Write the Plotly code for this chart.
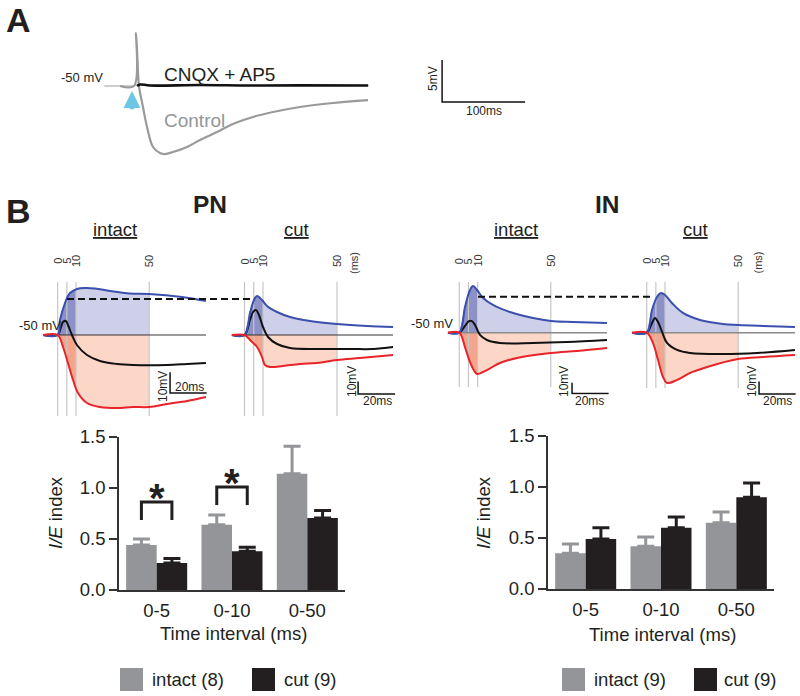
import numpy as np
import plotly.graph_objects as go

W, H = 800, 696
FONT = "Liberation Sans, Arial, Helvetica, sans-serif"
TXT = "#231f20"

# ---------------- Panel A data (time ms, deviation from -50 mV in mV) ----------------
a_control_t = [-18, -1.2, 1.2, 3.0, 4.8, 9.6, 14.5, 21.7, 30.1, 36.1, 45.8, 62.7, 78.3, 98.8,
               118.1, 142.2, 166.3, 198.8, 238.6, 280.7]
a_control_v = [0, 0, 6.31, 3.1, 0, -2.5, -4.88, -7.26, -7.98, -8.10, -7.86, -7.26, -6.43, -5.48,
               -4.52, -3.69, -3.10, -2.50, -2.02, -1.67]
a_cnqx_t = [2.4, 6.0, 18.0, 78.0, 138.0, 199.0, 281.0]
a_cnqx_v = [0.0, 0.18, 0.06, 0.12, 0.06, 0.08, 0.06]

# ---------------- Panel B traces (time ms, deviation from -50 mV) ----------------
pn_intact = {
    "blue_t": [-8, 0, 1.26, 3.99, 6.72, 10.55, 14.9, 20.4, 28.6, 39.5, 49.9, 67.9, 81.0],
    "blue_v": [0, 0, 7.25, 15.46, 20.29, 22.22, 22.7, 22.46, 21.26, 20.05, 19.81, 18.36, 16.43],
    "black_t": [-8, 0, 1.8, 2.9, 4.5, 5.6, 7.8, 10.5, 16.0, 23.1, 32.4, 41.1, 59.7, 70.7, 81.0],
    "black_v": [0, 0, 3.86, 6.28, 6.76, 4.83, 0, -4.83, -9.66, -12.56, -14.0, -14.49, -14.49, -14.0, -13.53],
    "red_t": [-8, 0, 2.9, 5.6, 8.4, 11.1, 16.0, 23.1, 32.4, 41.1, 49.9, 59.7, 70.7, 81.0],
    "red_v": [0, 0, -5.8, -13.53, -21.74, -28.0, -32.85, -34.78, -35.27, -34.78, -34.78, -33.33, -31.88, -29.95],
}
pn_cut = {
    "blue_t": [-6.8, 0, 2.97, 5.14, 6.76, 9.46, 12.16, 17.57, 24.6, 35.4, 50.0, 66.2, 80.3],
    "blue_v": [0, 0, 17.6, 28.0, 31.2, 28.0, 23.2, 18.4, 14.4, 11.2, 8.8, 7.2, 6.4],
    "black_t": [-6.8, 0, 2.97, 4.6, 6.2, 7.8, 10.0, 12.7, 17.6, 24.6, 39.2, 57.0, 69.5, 80.3],
    "black_v": [0, 0, 12.0, 18.4, 20.0, 16.0, 6.4, -1.6, -7.2, -10.4, -11.2, -11.2, -11.2, -9.6],
    "red_t": [-6.8, 0, 2.97, 6.76, 9.46, 11.1, 13.8, 20.8, 30.0, 39.2, 50.0, 62.4, 80.3],
    "red_v": [0, 0, -4.0, -9.6, -17.6, -24.0, -25.6, -24.8, -23.2, -22.4, -20.0, -18.4, -16.0],
}
in_intact = {
    "blue_t": [-6.2, 0, 3.1, 5.85, 7.5, 9.7, 13.0, 18.4, 27.7, 40.3, 50.1, 62.1, 80.7],
    "blue_v": [0, 0, 24.0, 39.9, 43.6, 39.9, 32.4, 25.9, 19.3, 13.7, 10.9, 10.0, 9.1],
    "black_t": [-6.2, 0, 3.1, 5.3, 6.9, 8.6, 11.3, 15.1, 22.2, 40.3, 58.9, 80.7],
    "black_v": [0, 0, 6.3, 10.9, 10.9, 7.2, -2.1, -6.8, -9.6, -9.6, -8.7, -6.8],
    "red_t": [-6.2, 0, 3.1, 5.85, 8.6, 9.7, 15.1, 22.2, 31.5, 50.1, 64.3, 80.7],
    "red_v": [0, 0, -13.4, -27.4, -36.7, -38.6, -34.9, -28.3, -23.6, -19.0, -17.1, -14.3],
}
in_cut = {
    "blue_t": [-8.0, 0, 2.9, 5.6, 7.8, 10.0, 13.8, 19.8, 29.1, 41.7, 49.9, 63.6, 81.0],
    "blue_v": [0, 0, 18.2, 28.6, 31.8, 30.2, 23.8, 15.8, 10.2, 7.0, 6.2, 5.4, 4.6],
    "black_t": [-8.0, 0, 2.9, 4.5, 6.2, 8.4, 11.1, 16.6, 23.7, 41.7, 60.3, 81.0],
    "black_v": [0, 0, 7.8, 11.8, 8.6, 0.6, -8.2, -13.8, -16.2, -17.0, -16.2, -13.8],
    "red_t": [-8.0, 0, 3.4, 6.2, 8.9, 11.1, 16.6, 23.7, 33.0, 49.9, 63.6, 81.0],
    "red_v": [0, 0, -8.2, -21.8, -35.4, -40.2, -37.8, -32.2, -27.4, -21.0, -19.4, -17.8],
}
window_edges = [0, 5, 10, 50]          # ms
window_labels = ["0", "5", "10", "50"]
dash_level_pn = 28.8                    # mV (in PN cut scale)
dash_level_in = 28.8                    # mV (in IN cut scale)

# ---------------- Bar data ----------------
categories = ["0-5", "0-10", "0-50"]
pn_intact_mean = [0.44, 0.64, 1.14]
pn_intact_sem = [0.06, 0.095, 0.27]
pn_cut_mean = [0.265, 0.38, 0.705]
pn_cut_sem = [0.045, 0.04, 0.075]
in_intact_mean = [0.35, 0.42, 0.65]
in_intact_sem = [0.09, 0.09, 0.105]
in_cut_mean = [0.49, 0.60, 0.90]
in_cut_sem = [0.11, 0.105, 0.14]
pn_legend = ["intact (8)", "cut (9)"]
in_legend = ["intact (9)", "cut (9)"]
sig_groups = [0, 1]
sig_bracket_top = [0.863, 1.01]
sig_bracket_leg = [0.686, 0.833]
y_ticks = [0.0, 0.5, 1.0, 1.5]

# ---------------- styling ----------------
BLUE = "#3b4fae"
RED = "#e8232a"
BLACK = "#111111"
BLUE_DARK = "#8c91c7"
BLUE_LIGHT = "#cdd0e8"
RED_DARK = "#f3a68c"
RED_LIGHT = "#fcd7c7"
WIN_GREY = "#c6c6c6"
INTACT_COL = "#939598"
CUT_COL = "#231f20"


def px2x(x):
    return x / W


def px2y(y):
    return 1 - y / H


# panel geometry: pixel of t=0, pixel of baseline, px per ms, px per mV, ranges
panels = {
    "A": dict(ax="", t0=135, base=86, ppms=0.83, ppmv=8.4, tr=[-45, 480], vr=[-10, 7.5]),
    "pn_intact": dict(ax="2", t0=57.7, base=335, ppms=1.83, ppmv=2.07, tr=[-9, 82], vr=[-41, 26],
                      lines=(282, 416), sb=(61.4, -28.0), base_col="#333333", base_w=1),
    "pn_cut": dict(ax="3", t0=244.5, base=335, ppms=1.85, ppmv=1.25, tr=[-8, 82], vr=[-66, 44],
                   lines=(282, 416), sb=(61.4, -47.2), base_col="#333333", base_w=1),
    "in_intact": dict(ax="4", t0=459.3, base=332.7, ppms=1.83, ppmv=1.07, tr=[-7, 82], vr=[-58, 50],
                      lines=(282, 387), sb=(61.6, -56.8), base_col="#8a8a8a", base_w=1.6),
    "in_cut": dict(ax="5", t0=646.7, base=332.7, ppms=1.83, ppmv=1.25, tr=[-9, 83], vr=[-52, 42],
                   lines=(282, 388), sb=(61.4, -49.0), base_col="#8a8a8a", base_w=1.6),
}

fig = go.Figure()
layout = dict(template="none", width=W, height=H,
              margin=dict(l=0, r=0, t=0, b=0, pad=0, autoexpand=False),
              paper_bgcolor="white", plot_bgcolor="rgba(0,0,0,0)", showlegend=False,
              barmode="group", bargap=0.19, bargroupgap=0)
annotations = []
shapes = []


def add_axes(p):
    xd = [px2x(p["t0"] + p["tr"][0] * p["ppms"]), px2x(p["t0"] + p["tr"][1] * p["ppms"])]
    yd = [px2y(p["base"] - p["vr"][0] * p["ppmv"]), px2y(p["base"] - p["vr"][1] * p["ppmv"])]
    a = p["ax"]
    hid = dict(visible=False, showgrid=False, zeroline=False, fixedrange=True, automargin=False)
    layout["xaxis" + a] = dict(domain=xd, range=p["tr"], anchor="y" + a, **hid)
    layout["yaxis" + a] = dict(domain=yd, range=p["vr"], anchor="x" + a, **hid)
    return "x" + a, "y" + a


def txt(x, y, s, size, color=TXT, angle=0, xanchor="center", yanchor="middle"):
    annotations.append(dict(x=px2x(x), y=px2y(y), xref="paper", yref="paper", text=s,
                            showarrow=False, textangle=angle, xanchor=xanchor, yanchor=yanchor,
                            font=dict(family=FONT, size=size, color=color)))


def line(xa, ya, x, y, color, width, shape="linear", dash=None):
    fig.add_trace(go.Scatter(x=x, y=y, mode="lines", xaxis=xa, yaxis=ya, hoverinfo="skip",
                             line=dict(color=color, width=width, shape=shape, dash=dash)))


def seg(t, v, a, b):
    t = np.asarray(t, float)
    v = np.asarray(v, float)
    inner = t[(t > a) & (t < b)]
    tt = np.concatenate([[a], inner, [b]])
    return tt, np.interp(tt, t, v)


# ---------------- Panel A ----------------
pa = panels["A"]
xa, ya = add_axes(pa)
line(xa, ya, [-37, 0], [0, 0], "#9a9a9a", 1)
line(xa, ya, a_control_t, a_control_v, "#9a9a9a", 2.2, "spline")
line(xa, ya, a_cnqx_t, a_cnqx_v, BLACK, 2.6, "spline")
# scale bar 5 mV / 100 ms
sb_t, sb_v = 370, -1.9
line(xa, ya, [sb_t, sb_t, sb_t + 100], [sb_v + 5, sb_v, sb_v], BLACK, 1.5)
annotations.append(dict(x=-3.6, y=-0.6, xref=xa, yref=ya, ax=-3.6, ay=-2.95, axref=xa, ayref=ya,
                        showarrow=True, arrowhead=2, arrowsize=0.75, arrowwidth=4.5,
                        arrowcolor="#6cc6e4", text=""))
txt(433, 79, "5mV", 12, angle=-90)
txt(484, 111, "100ms", 12)
txt(105, 77, "-50 mV", 13, xanchor="right")
txt(162, 74, "CNQX + AP5", 19, xanchor="left")
txt(162, 121, "Control", 19, color="#939598", xanchor="left")
txt(18.5, 20, "<b>A</b>", 34)

# ---------------- Panel B traces ----------------
trace_sets = {"pn_intact": pn_intact, "pn_cut": pn_cut, "in_intact": in_intact, "in_cut": in_cut}
for key, d in trace_sets.items():
    p = panels[key]
    xa, ya = add_axes(p)
    for col_t, col_v, dark, light in [("blue_t", "blue_v", BLUE_DARK, BLUE_LIGHT),
                                      ("red_t", "red_v", RED_DARK, RED_LIGHT)]:
        for (a, b), fc in [((window_edges[2], window_edges[3]), light),
                           ((window_edges[0], window_edges[2]), dark)]:
            tt, vv = seg(d[col_t], d[col_v], a, b)
            fig.add_trace(go.Scatter(x=tt, y=vv, mode="lines", fill="tozeroy", fillcolor=fc,
                                     line=dict(width=0, shape="spline"), xaxis=xa, yaxis=ya,
                                     hoverinfo="skip"))
    top, bot = p["lines"]
    v_top = (p["base"] - top) / p["ppmv"]
    v_bot = (p["base"] - bot) / p["ppmv"]
    for te in window_edges:
        line(xa, ya, [te, te], [v_bot, v_top], WIN_GREY, 1.2)
    t_start = min(d["blue_t"][0], d["red_t"][0])
    t_end = max(d["blue_t"][-1], d["red_t"][-1])
    line(xa, ya, [t_start, t_end], [0, 0], p["base_col"], p["base_w"])
    line(xa, ya, d["black_t"], d["black_v"], BLACK, 2, "spline")
    line(xa, ya, d["blue_t"], d["blue_v"], BLUE, 2, "spline")
    line(xa, ya, d["red_t"], d["red_v"], RED, 2, "spline")
    st, sv = p["sb"]
    line(xa, ya, [st, st, st + 20], [sv + 10, sv, sv], BLACK, 1.5)
    for te, lab in zip(window_edges, window_labels):
        px = p["t0"] + te * p["ppms"]
        txt(px, 261, lab, 11, color="#333333", angle=-90)

# dashed comparison lines
shapes.append(dict(type="line", xref="paper", yref="y3", x0=px2x(67), x1=px2x(252),
                   y0=dash_level_pn, y1=dash_level_pn, line=dict(color=BLACK, width=2, dash="7px,4px")))
shapes.append(dict(type="line", xref="paper", yref="y5", x0=px2x(478), x1=px2x(653),
                   y0=dash_level_in, y1=dash_level_in, line=dict(color=BLACK, width=2, dash="7px,4px")))

# scale labels B
txt(163, 387, "10mV", 12, angle=-90)
txt(189, 387, "20ms", 12)
txt(352, 382, "10mV", 12, angle=-90)
txt(377, 401, "20ms", 12)
txt(564, 382, "10mV", 12, angle=-90)
txt(589, 401, "20ms", 12)
txt(752, 382, "10mV", 12, angle=-90)
txt(777, 401, "20ms", 12)
txt(354, 263, "(ms)", 11, color="#333333", angle=-90)
txt(757.5, 263, "(ms)", 11, color="#333333", angle=-90)
txt(63, 325, "-50 mV", 13, xanchor="right")
txt(455, 323, "-50 mV", 13, xanchor="right")

txt(18.5, 211, "<b>B</b>", 34)
txt(210, 204, "<b>PN</b>", 24.5)
txt(607, 204, "<b>IN</b>", 24.5)
txt(114.5, 229, "<u>intact</u>", 18.5)
txt(296, 229, "<u>cut</u>", 18.5)
txt(516, 229, "<u>intact</u>", 18.5)
txt(695, 229, "<u>cut</u>", 18.5)

# ---------------- Bar charts ----------------
xcat = list(range(len(categories)))


def bar_axes(a, x0, x1, y0, y1):
    layout["xaxis" + a] = dict(domain=[px2x(x0), px2x(x1)], range=[-0.5, len(categories) - 0.5],
                               anchor="y" + a, tickvals=xcat, ticktext=categories, showgrid=False,
                               zeroline=False, showline=True, linecolor="#333333", linewidth=1.5,
                               ticks="outside", ticklen=3, tickcolor="rgba(0,0,0,0)",
                               tickfont=dict(family=FONT, size=18.5, color=TXT), fixedrange=True,
                               automargin=False)
    layout["yaxis" + a] = dict(domain=[px2y(y1), px2y(y0)], range=[0, 1.5], anchor="x" + a,
                               tickvals=y_ticks, ticktext=[f"{v:.1f}" for v in y_ticks],
                               showgrid=False, zeroline=False, showline=True, linecolor="#333333",
                               linewidth=1.5, ticks="outside", ticklen=8, tickwidth=1.5,
                               tickcolor="#333333", tickfont=dict(family=FONT, size=18.5, color=TXT),
                               fixedrange=True, automargin=False)
    return "x" + a, "y" + a


def bars(xa, ya, mean, sem, col):
    fig.add_trace(go.Bar(x=xcat, y=mean, xaxis=xa, yaxis=ya, marker=dict(color=col, line=dict(width=0)),
                         offsetgroup=col, hoverinfo="skip",
                         error_y=dict(type="data", array=sem, arrayminus=[0] * len(sem), symmetric=False,
                                      color=col, thickness=3, width=8.5)))


xa6, ya6 = bar_axes("6", 119, 345, 437, 590)
bars(xa6, ya6, pn_intact_mean, pn_intact_sem, INTACT_COL)
bars(xa6, ya6, pn_cut_mean, pn_cut_sem, CUT_COL)
xa7, ya7 = bar_axes("7", 548, 774, 436, 589)
bars(xa7, ya7, in_intact_mean, in_intact_sem, INTACT_COL)
bars(xa7, ya7, in_cut_mean, in_cut_sem, CUT_COL)

half = (1 - layout["bargap"]) / 4
for g, top, leg in zip(sig_groups, sig_bracket_top, sig_bracket_leg):
    line(xa6, ya6, [g - half, g - half, g + half, g + half], [leg, top, top, leg], CUT_COL, 3)
    annotations.append(dict(x=g, y=top, xref=xa6, yref=ya6, text="<b>*</b>", showarrow=False,
                            xanchor="center", yanchor="bottom", yshift=-20,
                            font=dict(family=FONT, size=40, color=CUT_COL)))

txt(233, 633, "Time interval (ms)", 18.5)
txt(662, 634, "Time interval (ms)", 18.5)
txt(55, 513, "<i>I/E</i> index", 18.5, angle=-90)
txt(483, 513, "<i>I/E</i> index", 18.5, angle=-90)

# legends
for (sx, tx, name, col) in [(120, 150, pn_legend[0], INTACT_COL), (252, 282, pn_legend[1], CUT_COL),
                            (562, 592, in_legend[0], INTACT_COL), (694, 722, in_legend[1], CUT_COL)]:
    shapes.append(dict(type="rect", xref="paper", yref="paper", x0=px2x(sx), x1=px2x(sx + 23),
                       y0=px2y(691), y1=px2y(668), fillcolor=col, line=dict(width=0)))
    txt(tx, 679, name, 18.5, xanchor="left")

layout["annotations"] = annotations
layout["shapes"] = shapes
fig.update_layout(**layout)
fig.write_html("out.html", config={"displayModeBar": False},
               post_script="document.body.style.margin='0';document.body.style.overflow='hidden';")
